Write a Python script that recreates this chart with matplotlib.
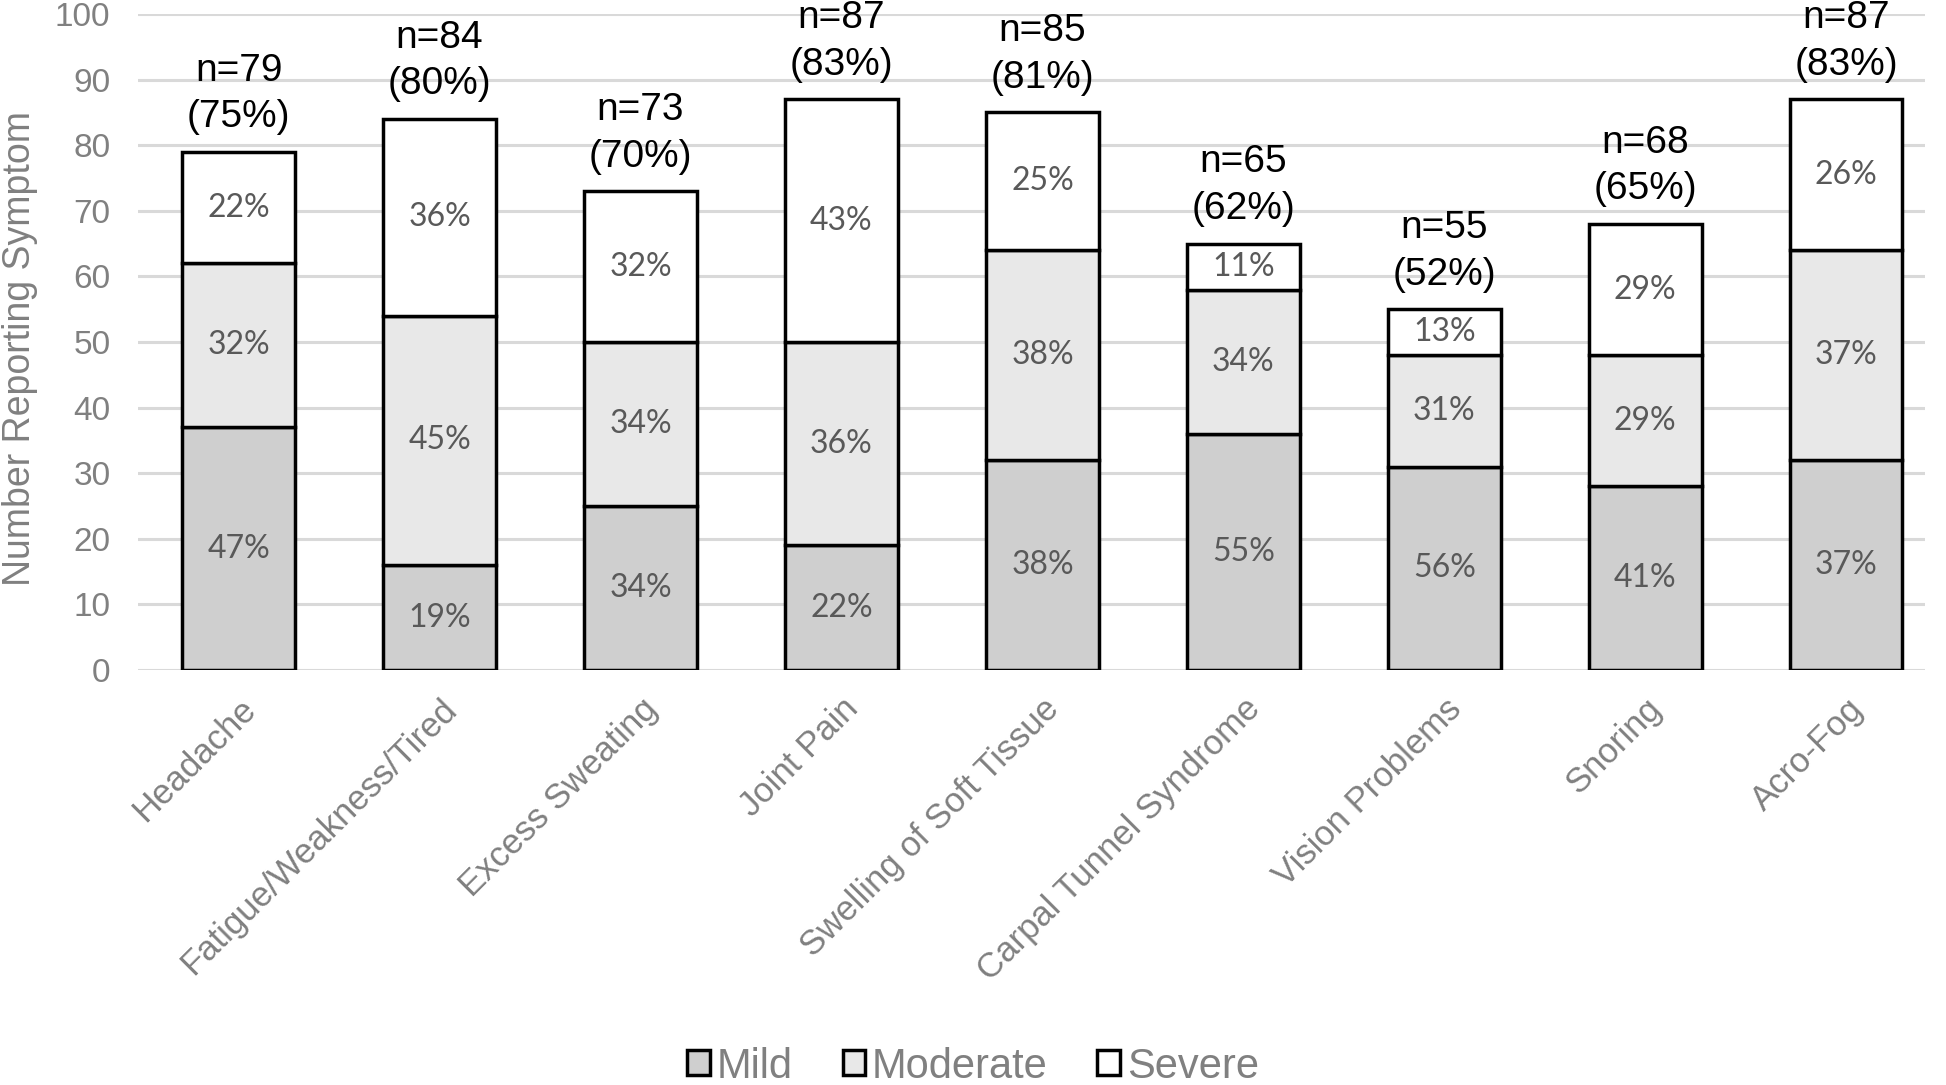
import matplotlib.pyplot as plt
import numpy as np

symptoms = [
    "Headache", "Fatigue/Weakness/Tired", "Excess Sweating", "Joint Pain",
    "Swelling of Soft Tissue", "Carpal Tunnel Syndrome", "Vision Problems",
    "Snoring", "Acro-Fog",
]
mild = [37, 16, 25, 19, 32, 36, 31, 28, 32]
moderate = [25, 38, 25, 31, 32, 22, 17, 20, 32]
severe = [17, 30, 23, 37, 21, 7, 7, 20, 23]
mild_pct = ["47%", "19%", "34%", "22%", "38%", "55%", "56%", "41%", "37%"]
moderate_pct = ["32%", "45%", "34%", "36%", "38%", "34%", "31%", "29%", "37%"]
severe_pct = ["22%", "36%", "32%", "43%", "25%", "11%", "13%", "29%", "26%"]
totals = [79, 84, 73, 87, 85, 65, 55, 68, 87]
total_pct = ["75%", "80%", "70%", "83%", "81%", "62%", "52%", "65%", "83%"]
y_ticks = list(range(0, 101, 10))

GRAY_TEXT = "#808080"
plt.rcParams["font.family"] = ["Liberation Sans", "DejaVu Sans"]

fig = plt.figure(figsize=(19.46, 10.85), dpi=100)
ax = fig.add_axes([0.071, 0.3825, 0.918, 0.6045])

x = np.arange(len(symptoms))
width = 0.56
segments = [
    (mild, mild_pct, "#cfcfcf", "Mild"),
    (moderate, moderate_pct, "#e8e8e8", "Moderate"),
    (severe, severe_pct, "#ffffff", "Severe"),
]
bottom = np.zeros(len(symptoms))
for values, labels, color, name in segments:
    vals = np.array(values, dtype=float)
    ax.bar(x, vals, width, bottom=bottom, color=color, edgecolor="black",
           linewidth=2.5, label=name, zorder=3)
    for i in range(len(x)):
        ax.text(x[i], bottom[i] + vals[i] / 2, labels[i], ha="center",
                va="center", fontsize=23, color="#595959",
                family=["Lato", "DejaVu Sans"], zorder=4)
    bottom += vals

# n and share of patients above each stack
for i in range(len(x)):
    ax.annotate(f"n={totals[i]}\n({total_pct[i]})", (x[i], totals[i]),
                xytext=(0, 12), textcoords="offset points", ha="center",
                va="bottom", fontsize=28, color="black", linespacing=1.38)

ax.set_xlim(-0.5, len(symptoms) - 0.61)
ax.set_ylim(0, 100)
ax.set_yticks(y_ticks)
ax.yaxis.grid(True, color="#d9d9d9", linewidth=2.2, zorder=0)
ax.set_axisbelow(True)
for s in ax.spines.values():
    s.set_visible(False)
ax.tick_params(axis="both", length=0, colors=GRAY_TEXT)
ax.tick_params(axis="y", pad=20, labelsize=24)
ax.set_xticks(x)
ax.set_xticklabels(symptoms, rotation=45, ha="right", rotation_mode="anchor",
                   fontsize=25)
ax.tick_params(axis="x", pad=16)
ax.set_ylabel("Number Reporting Symptom", fontsize=27, color=GRAY_TEXT)
ax.yaxis.set_label_coords(-0.056, 0.49)

leg = fig.legend(loc="center", bbox_to_anchor=(0.5, 0.017), ncol=3,
                 frameon=False, fontsize=30, handlelength=0.55,
                 handleheight=0.55, handletextpad=0.15, columnspacing=1.2)
for t in leg.get_texts():
    t.set_color(GRAY_TEXT)

fig.savefig("out.png", dpi=100)
